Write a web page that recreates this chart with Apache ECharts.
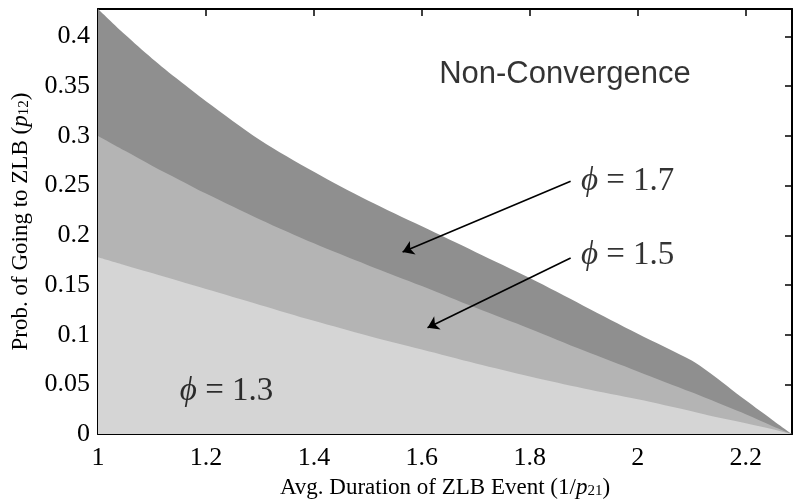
<!DOCTYPE html>
<html>
<head>
<meta charset="utf-8">
<script src="https://cdn.jsdelivr.net/npm/echarts@6/dist/echarts.min.js"></script>
<style>
    html, body { margin: 0; padding: 0; background: #fff; }
    #main { width: 793px; height: 504px; }
</style>
</head>
<body>
<div id="main"></div>
<script>
    // avg. duration of ZLB event (1/p21)
    var duration = [1, 1.05, 1.1, 1.15, 1.2, 1.3, 1.4, 1.5, 1.6, 1.7, 1.8, 1.9, 2.0, 2.1, 2.13, 2.2, 2.25, 2.2857];
    // upper bound of convergence region for each phi
    var phi17 = [0.4277, 0.402, 0.378, 0.356, 0.335, 0.296, 0.264, 0.235, 0.209, 0.183, 0.157, 0.129, 0.101, 0.074, 0.063, 0.034, 0.014, 0];
    var phi15 = [0.300, 0.285, 0.270, 0.256, 0.242, 0.216, 0.192, 0.170, 0.149, 0.127, 0.106, 0.084, 0.063, 0.042, 0.0355, 0.020, 0.008, 0];
    var phi13 = [0.178, 0.170, 0.162, 0.154, 0.146, 0.130, 0.114, 0.099, 0.085, 0.071, 0.058, 0.046, 0.035, 0.023, 0.019, 0.011, 0.005, 0];

    var xMin = 1, xMax = 2.2857;
    var yMin = 0, yMax = 0.4277;

    function pairs(ys) {
        return duration.map(function (x, i) { return [x, ys[i]]; });
    }

    function area(name, ys, color) {
        return {
            name: name,
            type: 'line',
            data: pairs(ys),
            smooth: 0.3,
            showSymbol: false,
            silent: true,
            lineStyle: { width: 0 },
            areaStyle: { color: color, opacity: 1 },
            itemStyle: { color: color }
        };
    }

    var serif = 'Liberation Serif';
    var axisCommon = {
        type: 'value',
        axisLine: { show: true, onZero: false, lineStyle: { color: '#000', width: 2 } },
        axisTick: { show: true, inside: true, length: 7, lineStyle: { color: '#000', width: 1.5 } },
        splitLine: { show: false }
    };

    function xAxis(pos, labels) {
        return Object.assign({}, axisCommon, {
            position: pos, min: xMin, max: xMax, interval: 0.2,
            axisLabel: { show: labels, showMaxLabel: false, color: '#000', fontFamily: serif, fontSize: 26, margin: 11 }
        });
    }
    function yAxis(pos, labels) {
        return Object.assign({}, axisCommon, {
            position: pos, min: yMin, max: yMax, interval: 0.05,
            axisLabel: { show: labels, showMaxLabel: false, color: '#000', fontFamily: serif, fontSize: 26, margin: 8 }
        });
    }

    var titleStyle = {
        color: '#000', fontFamily: serif, fontSize: 23,
        rich: {
            i: { fontFamily: serif, fontStyle: 'italic', fontSize: 23 },
            s: { fontFamily: serif, fontSize: 15, verticalAlign: 'bottom', padding: [8, 0, 0, 0] }
        }
    };

    var myChart = echarts.init(document.getElementById('main'));
    var bottomX = xAxis('bottom', true);
    bottomX.name = 'Avg. Duration of ZLB Event (1/{i|p}{s|21})';
    bottomX.nameLocation = 'middle';
    bottomX.nameGap = 40;
    bottomX.nameTextStyle = titleStyle;
    var leftY = yAxis('left', true);
    leftY.name = 'Prob. of Going to ZLB ({i|p}{s|12})';
    leftY.nameLocation = 'middle';
    leftY.nameGap = 66;
    leftY.nameTextStyle = titleStyle;

    var option = {
        backgroundColor: '#fff',
        animation: false,
        grid: { left: 98, right: 1, top: 9, bottom: 65 },
        xAxis: [bottomX, xAxis('top', false)],
        yAxis: [leftY, yAxis('right', false)],
        series: [
            area('phi=1.7', phi17, '#8f8f8f'),
            area('phi=1.5', phi15, '#b4b4b4'),
            area('phi=1.3', phi13, '#d5d5d5'),
            {
                type: 'lines',
                coordinateSystem: 'cartesian2d',
                silent: true,
                z: 5,
                symbol: ['none', 'arrow'],
                symbolSize: 11,
                lineStyle: { color: '#000', width: 1.6, opacity: 1 },
                data: [
                    { coords: [[1.8756, 0.2545], [1.5643, 0.1832]] },
                    { coords: [[1.8756, 0.1772], [1.6105, 0.1070]] }
                ]
            },
            {
                type: 'scatter',
                silent: true,
                z: 6,
                symbolSize: 0,
                label: {
                    show: true,
                    position: 'right',
                    distance: 0,
                    color: '#000',
                    fontFamily: serif,
                    fontSize: 33,
                    formatter: function (p) { return p.value[2]; },
                    rich: {
                        p: { fontFamily: serif, fontStyle: 'italic', fontSize: 33 }
                    }
                },
                data: [
                    [1.8946, 0.2548, '{p|ϕ} = 1.7'],
                    [1.8946, 0.1802, '{p|ϕ} = 1.5'],
                    [1.1516, 0.0430, '{p|ϕ} = 1.3'],
                    {
                        value: [1.632, 0.362, 'Non-Convergence'],
                        label: { fontFamily: 'Liberation Sans', fontSize: 31 }
                    }
                ]
            }
        ]
    };
    myChart.setOption(option);
</script>
</body>
</html>
